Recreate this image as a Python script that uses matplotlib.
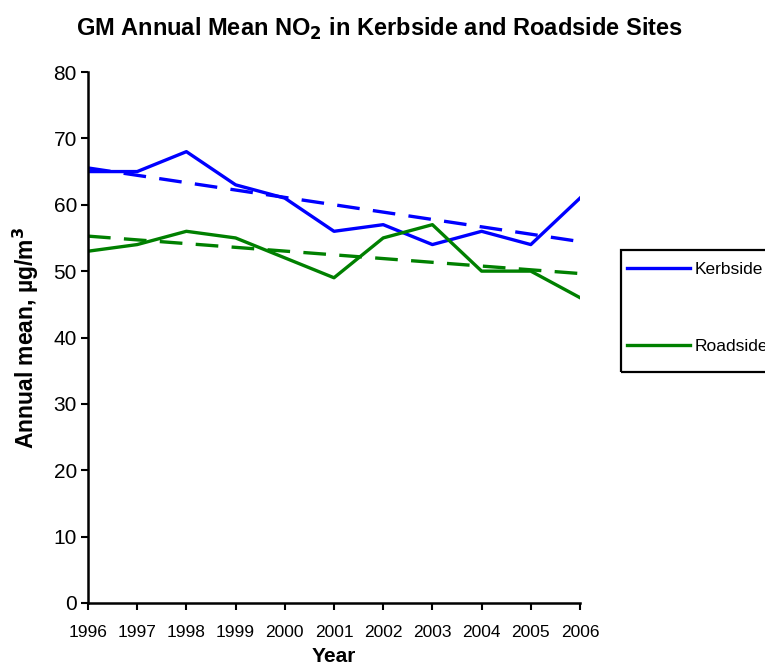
import numpy as np
import matplotlib
matplotlib.use('Agg')
import matplotlib.pyplot as plt
from matplotlib.patches import Rectangle

# ── Data ────────────────────────────────────────────────────────────────────
years = [1996, 1997, 1998, 1999, 2000, 2001, 2002, 2003, 2004, 2005, 2006]
kerbside = [65, 65, 68, 63, 61, 56, 57, 54, 56, 54, 61]
roadside = [53, 54, 56, 55, 52, 49, 55, 57, 50, 50, 46]
y_ticks = [0, 10, 20, 30, 40, 50, 60, 70, 80]

BLUE = '#0000ff'
GREEN = '#008000'
W, H = 765, 670

plt.rcParams['font.family'] = ['Liberation Sans', 'DejaVu Sans']

fig = plt.figure(figsize=(W / 100, H / 100), dpi=100)
ax = fig.add_axes([88 / W, 1 - 603 / H, (580 - 88) / W, (603 - 72) / H])

x = np.array(years, dtype=float)

# ── series ──────────────────────────────────────────────────────────────────
ax.plot(years, kerbside, color=BLUE, lw=2.4, label='Kerbside')
ax.plot(years, roadside, color=GREEN, lw=2.4, label='Roadside')

# linear trend lines (Excel-style)
for vals, col in [(kerbside, BLUE), (roadside, GREEN)]:
    m, c = np.polyfit(x, vals, 1)
    ax.plot(x, m * x + c, color=col, lw=2.4, dashes=(6.8, 4))

# ── axes ────────────────────────────────────────────────────────────────────
ax.set_xlim(1996, 2006)
ax.set_ylim(0, 80)
ax.set_xticks(years)
ax.set_yticks(y_ticks)
ax.tick_params(axis='y', labelsize=15, length=5, width=1.5, direction='out', pad=3)
ax.tick_params(axis='x', labelsize=12.5, length=5, width=1.5, direction='out', pad=11)
for s in ['top', 'right']:
    ax.spines[s].set_visible(False)
for s in ['left', 'bottom']:
    ax.spines[s].set_linewidth(1.8)

ax.set_xlabel('Year', fontsize=15, fontweight='bold', labelpad=5)
ax.set_ylabel(r'Annual mean, µg/m$^{\mathbf{3}}$', fontsize=16.5, fontweight='bold', labelpad=9)

fig.text(379 / W, 1 - 29 / H, r'GM Annual Mean NO$_\mathbf{2}$ in Kerbside and Roadside Sites',
         ha='center', va='center', fontsize=17, fontweight='bold')

# ── legend (box runs off the right edge like the original) ─────────────────
leg = fig.legend(loc='upper left', bbox_to_anchor=(627 / W, 1 - 262 / H),
                 fontsize=12.5, frameon=False,
                 labelspacing=3.55, handlelength=3.6, handletextpad=0.3,
                 borderpad=0, borderaxespad=0)
fig.patches.append(Rectangle((621 / W, 1 - 372 / H), 200 / W, 122 / H,
                             transform=fig.transFigure, facecolor='none',
                             edgecolor='black', lw=1.6))

fig.savefig('out.png', dpi=100, facecolor='white')
